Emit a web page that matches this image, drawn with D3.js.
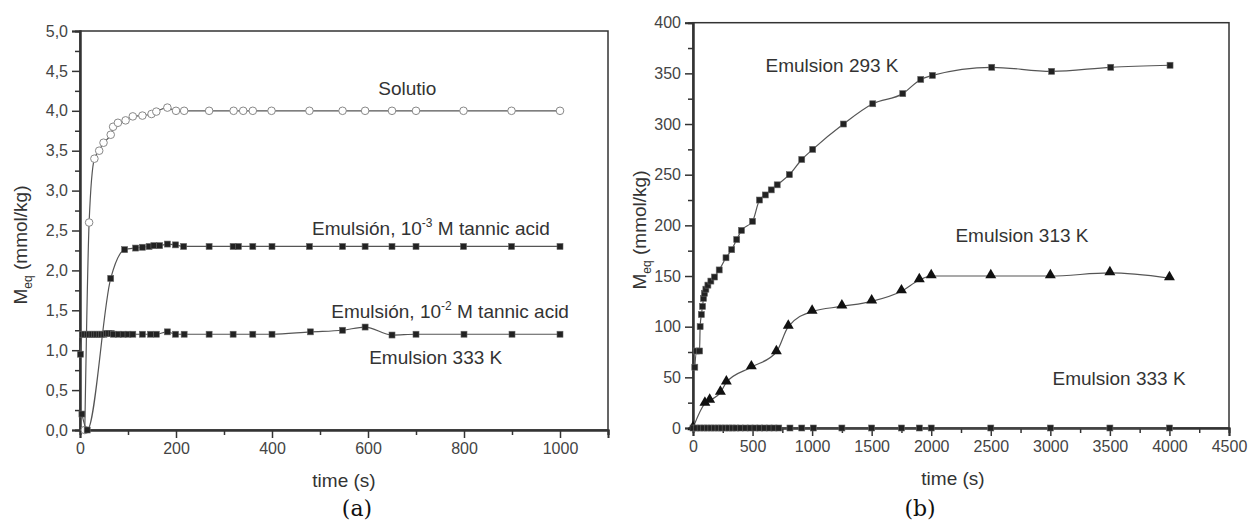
<!DOCTYPE html>
<html>
<head>
<meta charset="utf-8">
<script src="https://d3js.org/d3.v7.min.js"></script>
<style>
  body { margin: 0; background: #fff; }
  svg text { font-family: "Liberation Sans", Arial, sans-serif; fill: #333; }
  .axis path, .axis line { stroke: #333; }
  .axis text { font-size: 16px; fill: #444; }
</style>
</head>
<body>
<svg id="chart" width="1249" height="530"></svg>
<script>
// ---- data (a): time (s) vs M_eq (mmol/kg)
var solutio = [[10,0],[19,2.6],[30,3.4],[40,3.5],[49,3.6],[64,3.7],[69,3.8],[79,3.85],[95,3.88],
  [110,3.93],[130,3.94],[149,3.96],[159,3.99],[182,4.04],[200,4.0],[217,4.0],[269,4.0],[320,4.0],
  [340,4.0],[360,4.0],[399,4.0],[478,4.0],[547,4.0],[594,4.0],[650,4.0],[700,4.0],[799,4.0],[899,4.0],[1000,4.0]];
var tannic3 = [[4,0.2],[15,0.0],[64,1.9],[93,2.26],[116,2.28],[130,2.29],[144,2.3],[154,2.31],[166,2.31],
  [182,2.33],[199,2.32],[216,2.3],[269,2.3],[319,2.3],[330,2.3],[360,2.3],[400,2.3],[478,2.3],
  [547,2.3],[594,2.3],[650,2.3],[700,2.3],[799,2.3],[899,2.3],[1000,2.3]];
var tannic2 = [[1,0.95],[5,1.2],[10,1.2],[15,1.2],[20,1.2],[25,1.2],[30,1.2],[35,1.2],[40,1.2],[45,1.2],
  [50,1.2],[55,1.21],[60,1.21],[65,1.21],[70,1.2],[80,1.2],[90,1.2],[100,1.2],[110,1.2],[130,1.2],
  [147,1.2],[159,1.2],[182,1.23],[199,1.2],[217,1.2],[269,1.2],[319,1.2],[360,1.2],[400,1.2],
  [480,1.23],[547,1.25],[594,1.29],[650,1.19],[700,1.2],[800,1.2],[900,1.2],[1000,1.2]];
var labelsA = [
  {text: "Solutio", t: 682, v: 4.2},
  {text: "Emulsión, 10", sup: "-3", rest: " M tannic acid", t: 731, v: 2.44},
  {text: "Emulsión, 10", sup: "-2", rest: " M tannic acid", t: 771, v: 1.4},
  {text: "Emulsion 333 K", t: 741, v: 0.83}
];

// ---- data (b)
var k293 = [[15,60],[30,76],[55,76],[60,100],[70,112],[80,120],[88,128],[96,133],[108,137],[125,141],
  [150,145],[180,149],[220,156],[277,168],[325,176],[367,186],[407,195],[500,204],[558,225],[607,230],
  [657,235],[707,240],[809,250],[913,265],[1005,275],[1263,300],[1509,320],[1761,330],[1912,344],
  [2010,348],[2508,356],[3011,352],[3507,356],[4005,358]];
var k313 = [[0,0],[100,24],[140,27],[230,35],[280,45],[490,60],[700,75],[800,100],[1000,115],[1250,120],
  [1500,125],[1750,135],[1900,146],[2000,150],[2500,150],[3000,150],[3500,153],[4000,148]];
var k333 = [[0,0],[30,0],[60,0],[90,0],[120,0],[150,0],[180,0],[210,0],[240,0],[270,0],[300,0],[330,0],
  [360,0],[400,0],[440,0],[480,0],[520,0],[560,0],[600,0],[640,0],[680,0],[720,0],[814,0],[913,0],
  [1010,0],[1250,0],[1500,0],[1750,0],[1900,0],[2000,0],[2500,0],[3000,0],[3500,0],[4000,0]];
var labelsB = [
  {text: "Emulsion 293 K", t: 1167, v: 351},
  {text: "Emulsion 313 K", t: 2762, v: 184},
  {text: "Emulsion 333 K", t: 3577, v: 42}
];

var svg = d3.select("#chart");
var comma = function(d){ return d3.format(".1f")(d).replace(".", ","); };

function panel(opt) {
  var x = d3.scaleLinear().domain(opt.xDom).range([opt.x0, opt.x1]);
  var y = d3.scaleLinear().domain(opt.yDom).range([opt.yBot, opt.yTop]);
  var g = svg.append("g");

  // frame
  g.append("rect").attr("x", opt.x0).attr("y", opt.yTop)
    .attr("width", opt.x1 - opt.x0).attr("height", opt.yBot - opt.yTop)
    .attr("fill", "none").attr("stroke", "#333").attr("stroke-width", 1.5);

  // minor ticks
  g.append("g").attr("class", "axis").attr("transform", "translate(0," + opt.yBot + ")")
    .call(d3.axisBottom(x).tickValues(opt.xMinor).tickSize(5).tickFormat(""));
  g.append("g").attr("class", "axis").attr("transform", "translate(" + opt.x0 + ",0)")
    .call(d3.axisLeft(y).tickValues(opt.yMinor).tickSize(5).tickFormat(""));
  // major ticks
  g.append("g").attr("class", "axis").attr("transform", "translate(0," + opt.yBot + ")")
    .call(d3.axisBottom(x).tickValues(opt.xMajor).tickSize(8).tickPadding(5).tickFormat(d3.format("d")));
  g.append("g").attr("class", "axis").attr("transform", "translate(" + opt.x0 + ",0)")
    .call(d3.axisLeft(y).tickValues(opt.yMajor).tickSize(8).tickPadding(4).tickFormat(opt.yFmt));
  g.selectAll(".axis path").attr("stroke-width", 2);
  g.selectAll(".axis line").attr("stroke-width", 1.5);

  // axis titles
  g.append("text").attr("x", (opt.x0 + opt.x1) / 2 + opt.xTitleDx).attr("y", opt.yBot + 57)
    .attr("text-anchor", "middle").style("font-size", "19px").text("time (s)");
  var yt = g.append("text").attr("transform", "translate(" + opt.yTitleX + "," + opt.yTitleY + ") rotate(-90)")
    .attr("text-anchor", "middle").style("font-size", "19px");
  yt.append("tspan").text("M");
  yt.append("tspan").attr("dy", 5).style("font-size", "12px").text("eq");
  yt.append("tspan").attr("dy", -5).text(" (mmol/kg)");

  // panel letter
  g.append("text").attr("x", opt.letterX).attr("y", 516).attr("text-anchor", "middle")
    .style("font-family", "'DejaVu Serif', 'Liberation Serif', serif").style("font-size", "22px")
    .style("fill", "#111").text(opt.letter);

  // series
  var line = d3.line().x(function(d){ return x(d[0]); }).y(function(d){ return y(d[1]); })
    .curve(d3.curveMonotoneX);
  opt.series.forEach(function(s) {
    g.append("path").datum(s.data).attr("d", line)
      .attr("fill", "none").attr("stroke", "#555").attr("stroke-width", 1.2);
    var m = g.append("g").selectAll("m").data(s.data).enter();
    if (s.marker === "circle") {
      m.append("circle").attr("cx", function(d){ return x(d[0]); }).attr("cy", function(d){ return y(d[1]); })
        .attr("r", 3.8).attr("fill", "#fff").attr("stroke", "#888").attr("stroke-width", 1);
    } else if (s.marker === "triangle") {
      m.append("path").attr("d", d3.symbol().type(d3.symbolTriangle).size(52))
        .attr("transform", function(d){ return "translate(" + x(d[0]) + "," + (y(d[1]) - 1) + ")"; })
        .attr("fill", "#111");
    } else {
      m.append("rect").attr("x", function(d){ return x(d[0]) - 3; }).attr("y", function(d){ return y(d[1]) - 3; })
        .attr("width", 6).attr("height", 6).attr("fill", "#222").attr("stroke", "#666").attr("stroke-width", 0.6);
    }
  });

  // labels
  opt.labels.forEach(function(l) {
    var t = g.append("text").attr("x", x(l.t)).attr("y", y(l.v)).attr("text-anchor", "middle")
      .style("font-size", "19px");
    t.append("tspan").text(l.text);
    if (l.sup) {
      t.append("tspan").attr("dy", -8).style("font-size", "12px").text(l.sup);
      t.append("tspan").attr("dy", 8).text(l.rest);
    }
  });
}

panel({
  x0: 80, x1: 608, yTop: 31, yBot: 430,
  xDom: [0, 1100], yDom: [0, 5],
  xMajor: [0, 200, 400, 600, 800, 1000], xMinor: [100, 300, 500, 700, 900, 1100],
  yMajor: d3.range(0, 5.01, 0.5), yMinor: d3.range(0.25, 5, 0.5), yFmt: comma,
  xTitleDx: 0, yTitleX: 27, yTitleY: 245, letter: "(a)", letterX: 357,
  series: [
    {data: solutio, marker: "circle"},
    {data: tannic3, marker: "square"},
    {data: tannic2, marker: "square"}
  ],
  labels: labelsA
});

panel({
  x0: 693, x1: 1229, yTop: 22.7, yBot: 428,
  xDom: [0, 4500], yDom: [0, 400],
  xMajor: d3.range(0, 4501, 500), xMinor: d3.range(250, 4500, 500),
  yMajor: d3.range(0, 401, 50), yMinor: d3.range(25, 400, 50), yFmt: d3.format("d"),
  xTitleDx: -8, yTitleX: 646, yTitleY: 230, letter: "(b)", letterX: 920,
  series: [
    {data: k293, marker: "square"},
    {data: k313, marker: "triangle"},
    {data: k333, marker: "square"}
  ],
  labels: labelsB
});
</script>
</body>
</html>
